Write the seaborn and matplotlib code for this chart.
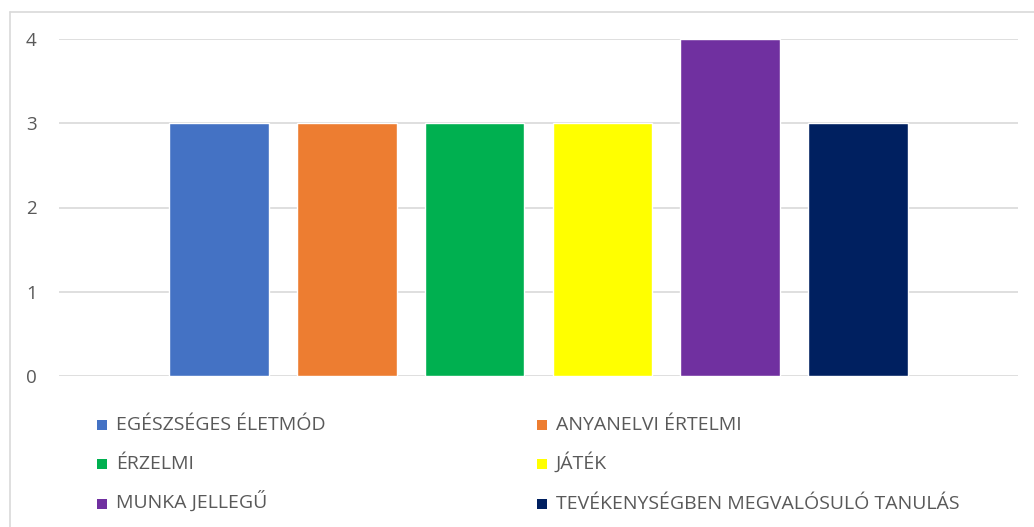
import pandas as pd
import matplotlib
matplotlib.use("Agg")
import matplotlib.pyplot as plt
import seaborn as sns
from matplotlib.lines import Line2D
from matplotlib.patches import Rectangle

# data
series = ["EGÉSZSÉGES ÉLETMÓD", "ANYANELVI ÉRTELMI", "ÉRZELMI", "JÁTÉK",
          "MUNKA JELLEGŰ", "TEVÉKENYSÉGBEN MEGVALÓSULÓ TANULÁS"]
values = [3, 3, 3, 3, 4, 3]
colors = ["#4472C4", "#ED7D31", "#00B050", "#FFFF00", "#7030A0", "#002060"]
yticks = [0, 1, 2, 3, 4]

df = pd.DataFrame({"grp": [""] * len(series), "series": series, "value": values})

sns.set_style("white")
plt.rcParams["font.family"] = ["Open Sans", "DejaVu Sans"]

W, H = 1034, 527
fig = plt.figure(figsize=(W / 100, H / 100), dpi=100)
ax = fig.add_axes([59 / W, 1 - 376 / H, (1018 - 59) / W, (376 - 39) / H])

sns.barplot(data=df, x="grp", y="value", hue="series", palette=colors,
            hue_order=series, width=0.80, gap=0.22, ax=ax, legend=False,
            saturation=1)

ax.set_xlim(-0.5, 0.5)
ax.set_ylim(0, 4)
ax.set_yticks(yticks)
ax.set_xticks([])
ax.set_xlabel("")
ax.set_ylabel("")
ax.grid(axis="y", color="#d9d9d9", linewidth=1.2)
ax.set_axisbelow(True)
for s in ax.spines.values():
    s.set_visible(False)
ax.tick_params(axis="y", length=0, pad=16, labelsize=13.5, labelcolor="#595959")

# legend below the plot: 2 columns x 3 rows, filled row by row
# (drawn by hand so every row shares one baseline)
col_x = [97, 537]
row_base = [430, 469, 509]
for i, (name, c) in enumerate(zip(series, colors)):
    x = col_x[i % 2]
    y = row_base[i // 2]
    fig.add_artist(Rectangle((x / W, 1 - y / H), 10 / W, 10 / H,
                             facecolor=c, edgecolor="none"))
    fig.text((x + 19) / W, 1 - y / H, name, ha="left", va="baseline",
             fontsize=14, color="#595959")

# light chart frame
fig.add_artist(Line2D([10 / W, 1], [1 - 12 / H, 1 - 12 / H],
                      color="#d9d9d9", linewidth=1.2))
fig.add_artist(Line2D([10 / W, 10 / W], [0, 1 - 12 / H],
                      color="#d9d9d9", linewidth=1.2))

fig.savefig("out.png", dpi=100)
